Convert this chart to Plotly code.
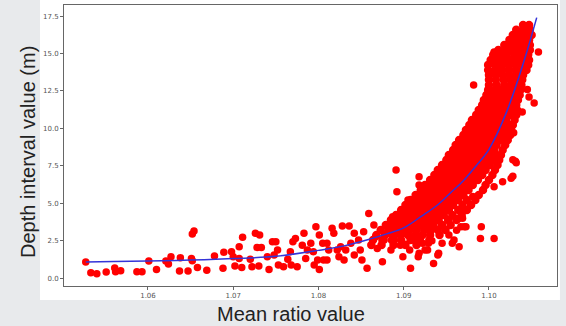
import plotly.graph_objects as go

# ---- fitted curve ----
curve_x = [1.0527, 1.056, 1.060, 1.065, 1.070, 1.075, 1.080, 1.083, 1.086, 1.088,
           1.090, 1.092, 1.094, 1.0955, 1.097, 1.0985, 1.100, 1.102, 1.104, 1.1056]
curve_y = [1.07, 1.10, 1.14, 1.20, 1.30, 1.45, 1.85, 2.15, 2.60, 2.95,
           3.35, 4.10, 4.90, 5.70, 6.50, 7.50, 8.60, 11.0, 14.3, 17.4]

# ---- sparse points, left part ----
pts_left = [
    (1.0527, 1.07), (1.0533, 0.35), (1.0540, 0.29), (1.0551, 0.40), (1.0561, 0.67),
    (1.0562, 0.42), (1.0568, 0.49), (1.0587, 0.42), (1.0593, 0.42), (1.0601, 1.14),
    (1.0610, 0.58), (1.0621, 1.14), (1.0624, 0.94), (1.0627, 1.42), (1.0637, 0.47),
    (1.0638, 1.36), (1.0647, 0.47), (1.0651, 1.30), (1.0652, 1.15), (1.0652, 2.95),
    (1.0654, 3.15), (1.0658, 0.70), (1.0669, 0.53), (1.0678, 1.47), (1.0688, 0.65),
    (1.0689, 1.72), (1.0698, 1.76), (1.0700, 1.42), (1.0702, 0.80), (1.0707, 1.31),
    (1.0707, 2.10), (1.0711, 2.72), (1.0710, 0.71), (1.0720, 1.25), (1.0722, 0.76),
    (1.0726, 2.99), (1.0731, 2.87), (1.0728, 2.05), (1.0733, 2.05), (1.0730, 0.80),
    (1.0740, 1.42), (1.0742, 0.58), (1.0746, 2.43), (1.0750, 2.43), (1.0748, 1.54),
    (1.0752, 1.87), (1.0753, 0.87), (1.0759, 0.76), (1.0764, 1.25), (1.0767, 1.76),
    (1.0770, 2.43), (1.0773, 2.65), (1.0768, 0.87), (1.0775, 0.76), (1.0781, 2.20),
    (1.0783, 2.99), (1.0785, 1.31), (1.0787, 1.87), (1.0791, 2.32), (1.0794, 1.76),
    (1.0797, 3.43), (1.0801, 2.87), (1.0799, 1.20), (1.0795, 0.87), (1.0801, 0.58),
    (1.0805, 2.32), (1.0810, 1.20),
]

# ---- sparse points, middle part ----
pts_mid = [
    (1.0806, 1.20), (1.0810, 2.32), (1.0812, 1.87), (1.0816, 3.32), (1.0818, 2.99),
    (1.0822, 1.87), (1.0824, 1.42), (1.0826, 2.10), (1.0828, 3.48), (1.0830, 1.20),
    (1.0832, 1.87), (1.0836, 3.48), (1.0838, 2.32), (1.0842, 2.99), (1.0842, 1.54),
    (1.0847, 2.54), (1.0849, 1.87), (1.0851, 1.20), (1.0853, 3.10), (1.0857, 0.65),
    (1.0859, 4.32), (1.0865, 3.54), (1.0867, 2.76), (1.0869, 1.98), (1.0875, 1.09),
    (1.0877, 2.54), (1.0881, 3.54), (1.0883, 2.99), (1.0885, 1.87), (1.0887, 4.10),
    (1.0889, 2.54), (1.0891, 7.22), (1.0892, 5.77), (1.0893, 3.21), (1.0895, 3.88),
    (1.0896, 2.20), (1.0899, 1.42), (1.0901, 2.99), (1.0903, 4.32), (1.0905, 3.54),
    (1.0907, 1.87), (1.0908, 0.65), (1.0909, 4.99), (1.0911, 2.54), (1.0913, 3.99),
    (1.0915, 3.21), (1.0917, 1.42), (1.0918, 6.77), (1.0918, 6.22), (1.0918, 4.55),
    (1.0920, 5.44), (1.0922, 2.32), (1.0924, 3.54), (1.0926, 4.99), (1.0928, 1.87),
    (1.0905, 5.21),
]

# ---- sparse points, right part / outliers ----
pts_right = [
    (1.0935, 0.98), (1.0941, 1.65), (1.0945, 2.32), (1.0957, 2.32), (1.0965, 2.10),
    (1.0967, 3.43), (1.0971, 3.43), (1.0969, 3.99), (1.0961, 3.99), (1.0971, 4.55),
    (1.0990, 2.65), (1.0953, 2.87), (1.0929, 2.32), (1.0933, 2.50), (1.0925, 1.87),
    (1.0918, 1.65), (1.0940, 1.54), (1.0959, 2.54), (1.0962, 3.20), (1.0965, 4.00),
    (1.0973, 3.43), (1.0981, 5.44), (1.0991, 3.43), (1.1006, 2.65), (1.1006, 6.10),
    (1.1016, 6.44), (1.1026, 6.66), (1.1028, 7.90), (1.1031, 7.80), (1.1029, 9.70),
    (1.1039, 11.10), (1.1047, 12.10), (1.1053, 11.70), (1.1045, 12.60), (1.1058, 15.10),
    (1.0982, 12.90), (1.1006, 15.10), (1.1010, 14.80), (1.1004, 14.50), (1.1032, 7.70),
    (1.1028, 6.80),
]

# ---- dense band, rows of (y, x values) ----
band_upper_rows = [
    (16.90, [1.1040, 1.1047]),
    (16.58, [1.1032, 1.1040, 1.1048]),
    (16.24, [1.1028, 1.1036, 1.1044, 1.1050]),
    (15.91, [1.1024, 1.1031, 1.1039, 1.1047]),
    (15.57, [1.1018, 1.1026, 1.1034, 1.1042, 1.1048]),
    (15.24, [1.1011, 1.1019, 1.1027, 1.1035, 1.1043, 1.1048]),
    (14.91, [1.1005, 1.1013, 1.1021, 1.1030, 1.1038, 1.1046]),
    (14.57, [1.1002, 1.1010, 1.1018, 1.1026, 1.1034, 1.1042, 1.1047]),
    (14.24, [1.0999, 1.1008, 1.1016, 1.1024, 1.1032, 1.1040, 1.1046]),
    (13.90, [1.0999, 1.1007, 1.1015, 1.1023, 1.1031, 1.1039, 1.1044]),
    (13.57, [1.1000, 1.1008, 1.1016, 1.1024, 1.1032, 1.1040]),
    (13.24, [1.1000, 1.1008, 1.1017, 1.1025, 1.1033, 1.1039]),
    (12.90, [1.1000, 1.1009, 1.1018, 1.1026, 1.1034, 1.1038]),
    (12.57, [1.0999, 1.1007, 1.1015, 1.1023, 1.1031, 1.1037]),
    (12.23, [1.0997, 1.1005, 1.1013, 1.1021, 1.1029, 1.1036]),
]
band_middle_rows = [
    (11.90, [1.0994, 1.1002, 1.1010, 1.1018, 1.1026, 1.1034]),
    (11.56, [1.0992, 1.1000, 1.1008, 1.1016, 1.1024, 1.1032]),
    (11.23, [1.0988, 1.0996, 1.1004, 1.1012, 1.1020, 1.1028, 1.1033]),
    (10.90, [1.0985, 1.0993, 1.1001, 1.1009, 1.1017, 1.1025, 1.1032]),
    (10.56, [1.0980, 1.0988, 1.0996, 1.1004, 1.1012, 1.1020, 1.1030]),
    (10.23, [1.0977, 1.0985, 1.0993, 1.1001, 1.1009, 1.1017, 1.1025, 1.1028]),
    (9.89, [1.0973, 1.0981, 1.0989, 1.0997, 1.1005, 1.1013, 1.1021, 1.1026]),
    (9.56, [1.0970, 1.0978, 1.0986, 1.0994, 1.1002, 1.1010, 1.1018, 1.1025]),
    (9.22, [1.0965, 1.0973, 1.0981, 1.0989, 1.0997, 1.1005, 1.1013, 1.1022]),
    (8.89, [1.0961, 1.0969, 1.0977, 1.0985, 1.0993, 1.1001, 1.1009, 1.1019]),
    (8.56, [1.0958, 1.0966, 1.0974, 1.0982, 1.0990, 1.0998, 1.1006, 1.1016]),
    (8.22, [1.0953, 1.0961, 1.0969, 1.0977, 1.0985, 1.0993, 1.1001, 1.1009, 1.1014]),
    (7.89, [1.0950, 1.0958, 1.0966, 1.0974, 1.0982, 1.0990, 1.0998, 1.1006, 1.1012]),
    (7.55, [1.0945, 1.0953, 1.0961, 1.0969, 1.0977, 1.0985, 1.0993, 1.1001, 1.1010]),
    (7.22, [1.0940, 1.0948, 1.0956, 1.0964, 1.0972, 1.0980, 1.0988, 1.0996, 1.1007]),
]
band_lower_rows = [
    (6.89, [1.0936, 1.0944, 1.0952, 1.0960, 1.0968, 1.0976, 1.0984, 1.0992, 1.1004]),
    (6.55, [1.0931, 1.0939, 1.0947, 1.0955, 1.0963, 1.0971, 1.0979, 1.0987, 1.1000]),
    (6.22, [1.0925, 1.0933, 1.0941, 1.0949, 1.0957, 1.0965, 1.0973, 1.0981, 1.0996]),
    (5.88, [1.0920, 1.0928, 1.0936, 1.0944, 1.0952, 1.0960, 1.0968, 1.0976, 1.0993]),
    (5.55, [1.0914, 1.0922, 1.0930, 1.0938, 1.0946, 1.0954, 1.0962, 1.0970, 1.0988]),
    (5.21, [1.0908, 1.0916, 1.0924, 1.0932, 1.0940, 1.0948, 1.0956, 1.0964, 1.0974, 1.0984]),
    (4.88, [1.0902, 1.0910, 1.0918, 1.0926, 1.0934, 1.0942, 1.0950, 1.0958, 1.0969, 1.0979]),
    (4.55, [1.0897, 1.0905, 1.0913, 1.0921, 1.0929, 1.0937, 1.0945, 1.0953, 1.0964, 1.0974]),
    (4.21, [1.0891, 1.0899, 1.0907, 1.0915, 1.0923, 1.0931, 1.0939, 1.0947, 1.0957, 1.0968]),
    (3.88, [1.0885, 1.0893, 1.0901, 1.0909, 1.0917, 1.0925, 1.0933, 1.0941, 1.0952, 1.0962]),
    (3.54, [1.0879, 1.0887, 1.0895, 1.0903, 1.0911, 1.0919, 1.0927, 1.0935, 1.0945, 1.0955]),
    (3.21, [1.0873, 1.0882, 1.0890, 1.0899, 1.0907, 1.0915, 1.0924, 1.0932, 1.0940, 1.0949]),
    (2.87, [1.0868, 1.0878, 1.0888, 1.0896, 1.0905, 1.0914, 1.0922, 1.0931, 1.0942]),
    (2.54, [1.0864, 1.0875, 1.0886, 1.0897, 1.0908, 1.0919, 1.0930]),
    (2.21, [1.0862, 1.0874, 1.0888, 1.0902, 1.0915]),
]

y_ticks = [0.0, 2.5, 5.0, 7.5, 10.0, 12.5, 15.0, 17.5]
x_ticks = [1.06, 1.07, 1.08, 1.09, 1.10]

# ---- assemble scatter data ----
px, py = [], []
for group in (pts_left, pts_mid, pts_right):
    for xv, yv in group:
        px.append(xv)
        py.append(yv)
bx, by = [], []
for rows in (band_upper_rows, band_middle_rows, band_lower_rows):
    for yv, xs in rows:
        for xv in xs:
            bx.append(xv)
            by.append(yv)

fig = go.Figure()
fig.add_trace(go.Scatter(
    x=bx, y=by, mode="markers",
    marker=dict(color="#ff0000", size=8.5, line=dict(width=0)),
    hoverinfo="skip", showlegend=False,
))
fig.add_trace(go.Scatter(
    x=px, y=py, mode="markers",
    marker=dict(color="#ff0000", size=7.5, line=dict(width=0)),
    hoverinfo="skip", showlegend=False,
))
fig.add_trace(go.Scatter(
    x=curve_x, y=curve_y, mode="lines",
    line=dict(color="#3434d8", width=1.5, shape="spline"),
    hoverinfo="skip", showlegend=False,
))

tick_font = dict(family="DejaVu Sans", size=7, color="#555555")
fig.update_xaxes(
    range=[1.05015, 1.10798], tickvals=x_ticks,
    ticktext=[f"{v:.2f}" for v in x_ticks],
    showgrid=False, zeroline=False, showline=True, mirror=True,
    linecolor="#666666", linewidth=1, ticks="outside", ticklen=3,
    tickcolor="#666666", tickfont=tick_font,
)
fig.update_yaxes(
    range=[-0.53, 18.24], tickvals=y_ticks,
    ticktext=[f"{v:.1f}" for v in y_ticks],
    showgrid=False, zeroline=False, showline=True, mirror=True,
    linecolor="#666666", linewidth=1, ticks="outside", ticklen=3,
    tickcolor="#666666", tickfont=tick_font,
)

fig.update_layout(
    width=566, height=326,
    margin=dict(l=64, r=9, t=5, b=40),
    paper_bgcolor="#e8eaec", plot_bgcolor="white",
    shapes=[dict(type="rect", xref="paper", yref="paper",
                 x0=-0.0487, x1=1.006, y0=-0.0498, y1=1.02,
                 fillcolor="white", line=dict(width=0), layer="below")],
    annotations=[
        dict(text="Mean ratio value", xref="paper", yref="paper",
             x=(291 - 64) / 493, y=(286 - 314) / 281, showarrow=False,
             font=dict(family="Liberation Sans", size=20, color="#222222"),
             xanchor="center", yanchor="middle"),
        dict(text="Depth interval value (m)", xref="paper", yref="paper",
             x=(28 - 64) / 493, y=(286 - 152) / 281, showarrow=False,
             textangle=-90,
             font=dict(family="Liberation Sans", size=20, color="#222222"),
             xanchor="center", yanchor="middle"),
    ],
)

fig.write_html(
    "out.html",
    config={"displayModeBar": False, "staticPlot": True},
    post_script="document.body.style.margin='0';document.body.style.padding='0';"
                "document.body.style.overflow='hidden';",
)
